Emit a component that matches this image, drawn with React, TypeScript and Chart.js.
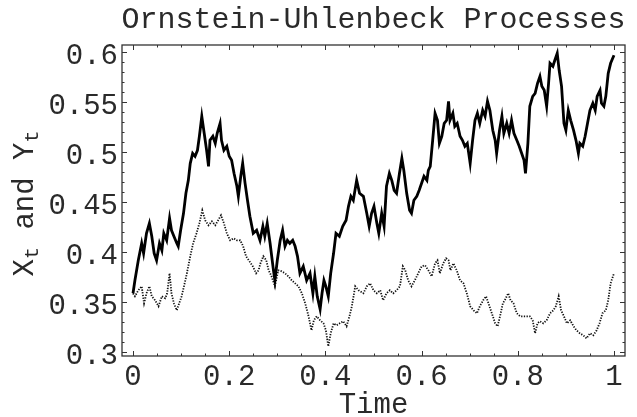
import { useEffect, useRef } from "react";
import { Chart, registerables } from "chart.js";

Chart.register(...registerables);

// X_t (solid line): time and value
const xtTimes = [
  0, 0.004, 0.011, 0.018, 0.022, 0.028, 0.034, 0.039, 0.044, 0.049,
  0.055, 0.06, 0.064, 0.07, 0.076, 0.08, 0.085, 0.091, 0.094, 0.099,
  0.105, 0.11, 0.115, 0.119, 0.124, 0.129, 0.134, 0.138, 0.143, 0.148,
  0.153, 0.157, 0.16, 0.166, 0.171, 0.175, 0.181, 0.184, 0.189, 0.195,
  0.2, 0.205, 0.21, 0.216, 0.219, 0.224, 0.228, 0.233, 0.238, 0.243,
  0.25, 0.257, 0.264, 0.27, 0.274, 0.279, 0.285, 0.292, 0.295, 0.3,
  0.306, 0.311, 0.316, 0.321, 0.326, 0.332, 0.337, 0.342, 0.347, 0.354,
  0.361, 0.368, 0.374, 0.378, 0.383, 0.389, 0.393, 0.397, 0.401, 0.406,
  0.411, 0.417, 0.422, 0.429, 0.436, 0.443, 0.448, 0.453, 0.458, 0.465,
  0.471, 0.479, 0.486, 0.491, 0.496, 0.501, 0.507, 0.511, 0.517, 0.522,
  0.527, 0.533, 0.538, 0.543, 0.548, 0.554, 0.559, 0.563, 0.569, 0.575,
  0.579, 0.584, 0.59, 0.595, 0.6, 0.605, 0.611, 0.614, 0.618, 0.623,
  0.628, 0.633, 0.637, 0.642, 0.647, 0.652, 0.656, 0.659, 0.665, 0.669,
  0.674, 0.68, 0.685, 0.69, 0.695, 0.701, 0.706, 0.711, 0.716, 0.721,
  0.727, 0.732, 0.737, 0.742, 0.748, 0.753, 0.756, 0.762, 0.767, 0.771,
  0.777, 0.782, 0.787, 0.792, 0.798, 0.803, 0.808, 0.813, 0.816, 0.821,
  0.825, 0.831, 0.836, 0.841, 0.846, 0.85, 0.855, 0.86, 0.864, 0.867,
  0.873, 0.877, 0.882, 0.886, 0.891, 0.896, 0.9, 0.905, 0.91, 0.916,
  0.921, 0.926, 0.929, 0.935, 0.94, 0.945, 0.95, 0.956, 0.961, 0.965,
  0.971, 0.974, 0.979, 0.983, 0.988, 0.993, 1,
];
const xtValues = [
  0.359, 0.372, 0.392, 0.409, 0.399, 0.419, 0.429, 0.416, 0.399, 0.392,
  0.409, 0.402, 0.419, 0.412, 0.434, 0.422, 0.416, 0.409, 0.406, 0.422,
  0.439, 0.459, 0.472, 0.489, 0.499, 0.496, 0.502, 0.516, 0.536, 0.519,
  0.502, 0.486, 0.512, 0.516, 0.509, 0.519, 0.529, 0.512, 0.502, 0.506,
  0.496, 0.492, 0.479, 0.466, 0.456, 0.476, 0.489, 0.469, 0.452, 0.436,
  0.419, 0.422, 0.412, 0.426, 0.416, 0.429, 0.409, 0.382, 0.372, 0.392,
  0.412, 0.422, 0.406, 0.412, 0.409, 0.412, 0.406, 0.396, 0.379, 0.386,
  0.372, 0.379, 0.359, 0.376, 0.356, 0.343, 0.359, 0.372, 0.366, 0.356,
  0.379, 0.399, 0.419, 0.416, 0.426, 0.432, 0.446, 0.456, 0.452, 0.472,
  0.459, 0.456, 0.439, 0.426, 0.439, 0.446, 0.429, 0.419, 0.439, 0.426,
  0.466, 0.479, 0.472, 0.462, 0.459, 0.479, 0.494, 0.482, 0.459, 0.442,
  0.439, 0.452, 0.456, 0.462, 0.469, 0.476, 0.472, 0.482, 0.486, 0.512,
  0.539, 0.532, 0.509, 0.516, 0.529, 0.532, 0.551, 0.532, 0.539, 0.526,
  0.529, 0.516, 0.512, 0.506, 0.509, 0.489, 0.512, 0.532, 0.539, 0.529,
  0.542, 0.536, 0.551, 0.542, 0.522, 0.512, 0.499, 0.522, 0.536, 0.519,
  0.529, 0.519, 0.532, 0.519, 0.512, 0.506, 0.499, 0.492, 0.479, 0.509,
  0.546, 0.556, 0.559, 0.569, 0.576, 0.566, 0.562, 0.546, 0.569, 0.589,
  0.586, 0.592, 0.599, 0.582, 0.566, 0.529, 0.522, 0.542, 0.532, 0.522,
  0.512, 0.499, 0.509, 0.506, 0.516, 0.529, 0.542, 0.549, 0.542, 0.556,
  0.562, 0.549, 0.546, 0.556, 0.579, 0.589, 0.597,
];

// Y_t (dotted line)
const ytTimes = [
  0, 0.004, 0.011, 0.018, 0.023, 0.028, 0.034, 0.039, 0.046, 0.053,
  0.06, 0.067, 0.071, 0.076, 0.08, 0.085, 0.091, 0.096, 0.101, 0.106,
  0.112, 0.119, 0.125, 0.132, 0.138, 0.144, 0.15, 0.157, 0.164, 0.171,
  0.177, 0.183, 0.189, 0.195, 0.202, 0.209, 0.216, 0.223, 0.229, 0.235,
  0.242, 0.249, 0.256, 0.261, 0.265, 0.271, 0.277, 0.282, 0.288, 0.295,
  0.302, 0.309, 0.316, 0.323, 0.33, 0.337, 0.344, 0.351, 0.358, 0.365,
  0.371, 0.376, 0.382, 0.389, 0.396, 0.401, 0.406, 0.411, 0.417, 0.423,
  0.43, 0.437, 0.444, 0.45, 0.455, 0.462, 0.469,
  0.479, 0.486, 0.493, 0.5, 0.507, 0.514, 0.52, 0.527, 0.534, 0.541,
  0.548, 0.555, 0.561, 0.566, 0.572, 0.579, 0.586, 0.593, 0.6, 0.607,
  0.614, 0.621, 0.628, 0.633, 0.638, 0.645, 0.651, 0.656, 0.66, 0.666,
  0.673, 0.68, 0.687, 0.694, 0.701, 0.708, 0.715, 0.721, 0.728, 0.734,
  0.739, 0.746, 0.753, 0.758, 0.763, 0.769, 0.773, 0.78, 0.785, 0.791,
  0.798, 0.805, 0.812, 0.818, 0.825, 0.831, 0.836, 0.841, 0.846, 0.853,
  0.86, 0.867, 0.874, 0.879, 0.885, 0.89, 0.896, 0.902, 0.909, 0.916,
  0.922, 0.929, 0.936, 0.943, 0.95, 0.957, 0.964, 0.97, 0.976, 0.983,
  0.988, 0.993, 1,
];
const ytValues = [
  0.359, 0.356, 0.362, 0.366, 0.349, 0.359, 0.366, 0.356, 0.352, 0.346,
  0.356, 0.354, 0.359, 0.379, 0.359, 0.349, 0.342, 0.349, 0.356, 0.366,
  0.379, 0.396, 0.409, 0.419, 0.429, 0.442, 0.432, 0.427, 0.431, 0.427,
  0.432, 0.437, 0.429, 0.419, 0.412, 0.414, 0.412, 0.412, 0.406, 0.396,
  0.391, 0.386, 0.379, 0.382, 0.389, 0.396, 0.392, 0.382, 0.376, 0.366,
  0.382, 0.381, 0.379, 0.376, 0.372, 0.369, 0.366, 0.359, 0.349, 0.336,
  0.322, 0.332, 0.336, 0.332, 0.329, 0.322, 0.306, 0.319, 0.329, 0.327,
  0.329, 0.331, 0.326, 0.336, 0.346, 0.366, 0.362,
  0.359, 0.366, 0.369, 0.362, 0.359, 0.362, 0.352, 0.359, 0.362, 0.359,
  0.362, 0.366, 0.386, 0.382, 0.372, 0.366, 0.372, 0.379, 0.386, 0.387,
  0.382, 0.376, 0.389, 0.392, 0.379, 0.389, 0.394, 0.392, 0.382, 0.389,
  0.382, 0.372, 0.369, 0.359, 0.346, 0.342, 0.339, 0.346, 0.352, 0.356,
  0.349, 0.339, 0.329, 0.326, 0.336, 0.349, 0.352, 0.359, 0.352, 0.349,
  0.339, 0.336, 0.336, 0.336, 0.336, 0.332, 0.319, 0.329, 0.331, 0.329,
  0.332, 0.339, 0.342, 0.346, 0.356, 0.342, 0.336, 0.329, 0.332, 0.326,
  0.322, 0.319, 0.317, 0.314, 0.319, 0.317, 0.322, 0.329, 0.339, 0.342,
  0.352, 0.369, 0.379,
];

const timeTicks = [0, 0.2, 0.4, 0.6, 0.8, 1];
const timeTickLabels = ["0", "0.2", "0.4", "0.6", "0.8", "1"];
const valueTicks = [0.3, 0.35, 0.4, 0.45, 0.5, 0.55, 0.6];
const valueTickLabels = ["0.3", "0.35", "0.4", "0.45", "0.5", "0.55", "0.6"];

const MONO = "'Liberation Mono', 'Courier New', 'DejaVu Sans Mono', monospace";
const INK = "#2a2a2a";

// Mathematica-style frame: box with inward ticks on all four sides, plus the titles
const framePlugin = {
  id: "mmaFrame",
  afterDraw(chart: Chart) {
    const { ctx, chartArea: a } = chart;
    const xs = chart.scales.x;
    const ys = chart.scales.y;
    ctx.save();
    ctx.strokeStyle = "#333";
    ctx.lineWidth = 1.3;
    ctx.strokeRect(a.left, a.top, a.right - a.left, a.bottom - a.top);

    ctx.lineWidth = 1;
    ctx.beginPath();
    for (let k = 0; k <= 20; k++) {
      const px = Math.round(xs.getPixelForValue(k * 0.05)) + 0.5;
      const len = k % 4 === 0 ? 5 : 2.5;
      ctx.moveTo(px, a.bottom);
      ctx.lineTo(px, a.bottom - len);
      ctx.moveTo(px, a.top);
      ctx.lineTo(px, a.top + len);
    }
    for (let k = 0; k <= 30; k++) {
      const py = Math.round(ys.getPixelForValue(0.3 + k * 0.01)) + 0.5;
      const len = k % 5 === 0 ? 5 : 2.5;
      ctx.moveTo(a.left, py);
      ctx.lineTo(a.left + len, py);
      ctx.moveTo(a.right, py);
      ctx.lineTo(a.right - len, py);
    }
    ctx.stroke();

    ctx.fillStyle = INK;
    ctx.textBaseline = "alphabetic";
    ctx.textAlign = "center";
    ctx.font = `30px ${MONO}`;
    ctx.fillText("Ornstein-Uhlenbeck Processes", (a.left + a.right) / 2, 28);

    ctx.font = `29px ${MONO}`;
    ctx.fillText("Time", (a.left + a.right) / 2, 413);

    // y axis title with subscripts, rotated
    const parts: [string, boolean][] = [["X", false], ["t", true], [" and Y", false], ["t", true]];
    const big = `29px ${MONO}`;
    const small = `20px ${MONO}`;
    let total = 0;
    for (const [s, sub] of parts) {
      ctx.font = sub ? small : big;
      total += ctx.measureText(s).width;
    }
    ctx.translate(33, (a.top + a.bottom) / 2 + 3);
    ctx.rotate(-Math.PI / 2);
    ctx.textAlign = "left";
    let cx = -total / 2;
    for (const [s, sub] of parts) {
      ctx.font = sub ? small : big;
      ctx.fillText(s, cx, sub ? 5 : 0);
      cx += ctx.measureText(s).width;
    }
    ctx.restore();
  },
};

export default function App() {
  const canvasRef = useRef<HTMLCanvasElement>(null);
  const chartRef = useRef<Chart | null>(null);

  useEffect(() => {
    if (!canvasRef.current) return;
    if (chartRef.current) chartRef.current.destroy();

    chartRef.current = new Chart(canvasRef.current, {
      type: "line",
      data: {
        datasets: [
          {
            label: "Xt",
            data: xtTimes.map((t, i) => ({ x: t, y: xtValues[i] })),
            borderColor: "#000",
            borderWidth: 2.8,
            pointRadius: 0,
            tension: 0,
          },
          {
            label: "Yt",
            data: ytTimes.map((t, i) => ({ x: t, y: ytValues[i] })),
            borderColor: "#111",
            borderWidth: 1.8,
            borderDash: [1.3, 1.4],
            pointRadius: 0,
            tension: 0,
          },
        ],
      },
      options: {
        responsive: true,
        maintainAspectRatio: false,
        animation: false,
        layout: { padding: { top: 45, right: 12, left: 0, bottom: 0 } },
        plugins: {
          legend: { display: false },
          tooltip: { enabled: false },
        },
        scales: {
          x: {
            type: "linear",
            min: -0.0229,
            max: 1.0229,
            grid: { display: false, drawTicks: false },
            border: { display: false },
            afterBuildTicks: (s: any) => {
              s.ticks = timeTicks.map((value) => ({ value }));
            },
            afterFit: (s: any) => {
              s.height = 61;
            },
            ticks: {
              autoSkip: false,
              maxRotation: 0,
              padding: 4,
              color: INK,
              font: { family: MONO, size: 29 },
              callback: (_v: any, i: number) => timeTickLabels[i],
            },
          },
          y: {
            type: "linear",
            min: 0.2963,
            max: 0.6073,
            grid: { display: false, drawTicks: false },
            border: { display: false },
            afterBuildTicks: (s: any) => {
              s.ticks = valueTicks.map((value) => ({ value }));
            },
            afterFit: (s: any) => {
              s.width = 122;
            },
            ticks: {
              autoSkip: false,
              padding: 4,
              labelOffset: 4,
              color: INK,
              font: { family: MONO, size: 29 },
              callback: (_v: any, i: number) => valueTickLabels[i],
            },
          },
        },
      },
      plugins: [framePlugin],
    });

    return () => {
      if (chartRef.current) {
        chartRef.current.destroy();
        chartRef.current = null;
      }
    };
  }, []);

  return (
    <div style={{ position: "fixed", left: 0, top: 0, width: "637px", height: "417px", background: "#fff" }}>
      <canvas ref={canvasRef}></canvas>
    </div>
  );
}
